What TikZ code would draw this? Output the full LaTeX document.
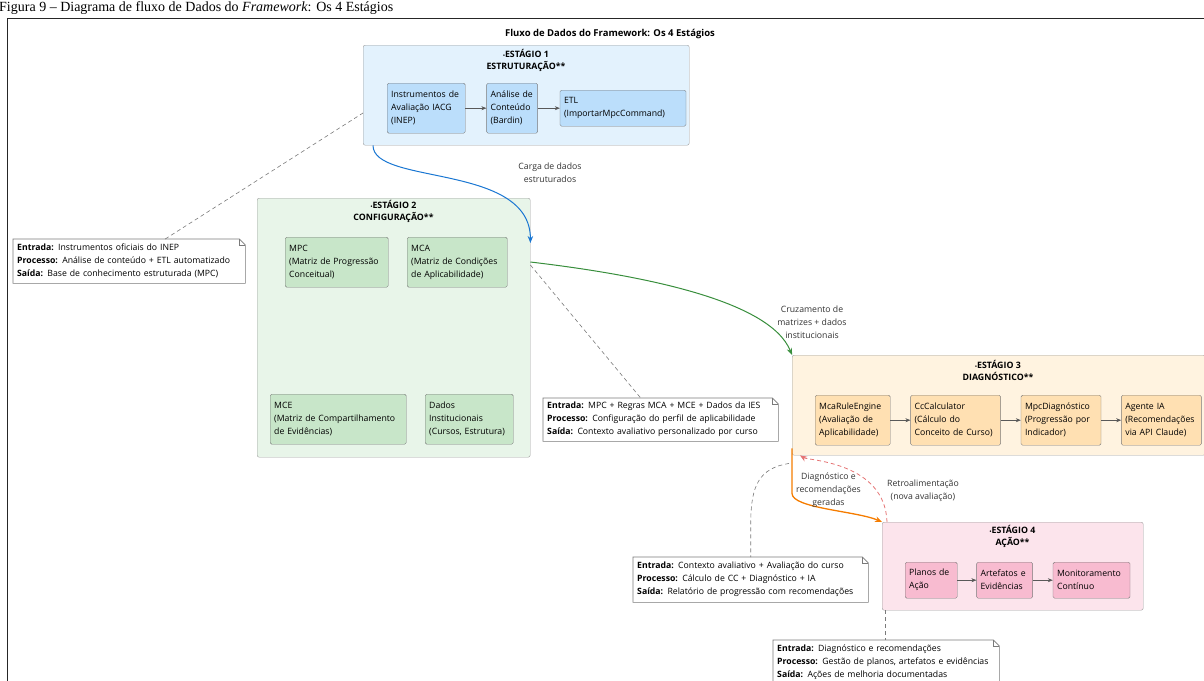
\documentclass[tikz,border=0pt]{standalone}
\usepackage{fontspec}
\setmainfont{Open Sans}
\newfontfamily\capfont{Liberation Serif}
\usetikzlibrary{arrows.meta,positioning}

\definecolor{s1back}{HTML}{E3F2FD}
\definecolor{s1part}{HTML}{BBDEFB}
\definecolor{s2back}{HTML}{E8F5E9}
\definecolor{s2part}{HTML}{C8E6C9}
\definecolor{s3back}{HTML}{FFF3E0}
\definecolor{s3part}{HTML}{FFE0B2}
\definecolor{s4back}{HTML}{FCE4EC}
\definecolor{s4part}{HTML}{F8BBD0}
\definecolor{blueflow}{HTML}{1976D2}
\definecolor{greenflow}{HTML}{388E3C}
\definecolor{orangeflow}{HTML}{F57C00}
\definecolor{redflow}{HTML}{E57373}
\definecolor{stageedge}{HTML}{9E9E9E}
\definecolor{partedge}{HTML}{7A7A7A}

\newcommand{\dotmark}{{\fontsize{5}{5}\selectfont\textbullet}}
\newcommand{\notecorner}[1]{%
  \draw[notedge] (#1.south west) -- (#1.north west) -- ([xshift=-6pt]#1.north east)
    -- ([yshift=-6pt]#1.north east) -- (#1.south east) -- cycle;
  \draw[notedge] ([xshift=-6pt]#1.north east) |- ([yshift=-6pt]#1.north east);}

\begin{document}
\begin{tikzpicture}[x=1pt,y=-1pt,
  every node/.style={font=\fontsize{8.7}{13}\selectfont},
  stage/.style={draw=stageedge, rounded corners=2pt, anchor=north west, inner sep=0pt},
  part/.style={draw=partedge, rounded corners=1.5pt, anchor=north west, align=left, inner xsep=4pt, inner ysep=0pt},
  head/.style={align=center, font=\fontsize{8.8}{12}\selectfont\bfseries},
  note/.style={fill=white, anchor=north west, align=left, inner xsep=4pt, inner ysep=0pt},
  notedge/.style={draw=partedge, line width=0.6pt},
  noteline/.style={partedge, dash pattern=on 4pt off 3pt, line width=0.6pt},
  flow/.style={-{Stealth[length=5pt,width=4pt]}, black!65, line width=0.6pt},
  big/.style={-{Stealth[length=7pt,width=5.5pt]}, line width=1pt},
  lbl/.style={align=center, text=black!80}]

\useasboundingbox (0,0) rectangle (1204,680);
\clip (0,0) rectangle (1204,680);

\draw[black!85, line width=0.8pt] (7,18) rectangle (1230,720);
\node[anchor=base west, inner sep=0pt, font=\capfont\fontsize{14}{14}\selectfont] (cap) at (-1,11)
  {Figura 9 – Diagrama de fluxo de Dados do \textit{Framework}: Os 4 Estágios};
\node[font=\fontsize{9.5}{12}\selectfont\bfseries] (title) at (610,34) {Fluxo de Dados do Framework: Os 4 Estágios};

\node[stage, fill=s1back, minimum width=326pt, minimum height=100pt] (s1) at (363,45) {};
\node[head] (s1h) at (526,60) {\dotmark ESTÁGIO 1\\ESTRUTURAÇÃO**};
\node[part, fill=s1part, text width=70pt, minimum height=50pt] (inst) at (387,83) {Instrumentos de\\Avaliação IACG\\(INEP)};
\node[part, fill=s1part, text width=43pt, minimum height=50pt, right=21pt of inst] (anal) {Análise de\\Conteúdo\\(Bardin)};
\node[part, fill=s1part, text width=118pt, minimum height=36pt, right=22pt of anal] (etl) {ETL\\(ImportarMpcCommand)};
\draw[flow] (inst) -- (anal);
\draw[flow] (anal) -- (etl);

\node[stage, fill=s2back, minimum width=273pt, minimum height=259pt] (s2) at (257,198) {};
\node[head] (s2h) at (393.5,211.5) {\dotmark ESTÁGIO 2\\CONFIGURAÇÃO**};
\node[part, fill=s2part, text width=95pt, minimum height=50pt] (mpc) at (285,237) {MPC\\(Matriz de Progressão\\Conceitual)};
\node[part, fill=s2part, text width=92pt, minimum height=50pt] (mca) at (407,237) {MCA\\(Matriz de Condições\\de Aplicabilidade)};
\node[part, fill=s2part, text width=128pt, minimum height=50pt] (mce) at (270,394) {MCE\\(Matriz de Compartilhamento\\de Evidências)};
\node[part, fill=s2part, text width=80pt, minimum height=50pt] (ies) at (425,394) {Dados\\Institucionais\\(Cursos, Estrutura)};

\node[stage, fill=s3back, minimum width=413pt, minimum height=100pt] (s3) at (792,355) {};
\node[head] (s3h) at (998,370.5) {\dotmark ESTÁGIO 3\\DIAGNÓSTICO**};
\node[part, fill=s3part, text width=67pt, minimum height=50pt] (rule) at (815,395) {McaRuleEngine\\(Avaliação de\\Aplicabilidade)};
\node[part, fill=s3part, text width=82pt, minimum height=50pt, right=20pt of rule] (calc) {CcCalculator\\(Cálculo do\\Conceito de Curso)};
\node[part, fill=s3part, text width=72pt, minimum height=50pt, right=20pt of calc] (diag) {MpcDiagnóstico\\(Progressão por\\Indicador)};
\node[part, fill=s3part, text width=72pt, minimum height=50pt, right=20pt of diag] (agent) {Agente IA\\(Recomendações\\via API Claude)};
\draw[flow] (rule) -- (calc);
\draw[flow] (calc) -- (diag);
\draw[flow] (diag) -- (agent);

\node[stage, fill=s4back, minimum width=261pt, minimum height=88pt] (s4) at (882,522) {};
\node[head] (s4h) at (1012.5,536.5) {\dotmark ESTÁGIO 4\\AÇÃO**};
\node[part, fill=s4part, text width=44pt, minimum height=36pt] (plan) at (905,562) {Planos de\\Ação};
\node[part, fill=s4part, text width=48pt, minimum height=36pt, right=19pt of plan] (art) {Artefatos e\\Evidências};
\node[part, fill=s4part, text width=69pt, minimum height=36pt, right=20pt of art] (mon) {Monitoramento\\Contínuo};
\draw[flow] (plan) -- (art);
\draw[flow] (art) -- (mon);

\node[note, text width=224pt, minimum height=44pt] (n1) at (13,239) {\textbf{Entrada:} Instrumentos oficiais do INEP\\\textbf{Processo:} Análise de conteúdo + ETL automatizado\\\textbf{Saída:} Base de conhecimento estruturada (MPC)};
\notecorner{n1}
\node[note, text width=227pt, minimum height=43pt] (n2) at (543,398) {\textbf{Entrada:} MPC + Regras MCA + MCE + Dados da IES\\\textbf{Processo:} Configuração do perfil de aplicabilidade\\\textbf{Saída:} Contexto avaliativo personalizado por curso};
\notecorner{n2}
\node[note, text width=227pt, minimum height=45pt] (n3) at (633,557) {\textbf{Entrada:} Contexto avaliativo + Avaliação do curso\\\textbf{Processo:} Cálculo de CC + Diagnóstico + IA\\\textbf{Saída:} Relatório de progressão com recomendações};
\notecorner{n3}
\node[note, text width=218pt, minimum height=45pt] (n4) at (773,640) {\textbf{Entrada:} Diagnóstico e recomendações\\\textbf{Processo:} Gestão de planos, artefatos e evidências\\\textbf{Saída:} Ações de melhoria documentadas};
\notecorner{n4}

\draw[noteline] ([xshift=36pt]n1.north) -- ([yshift=-68pt]s1.north west);
\draw[noteline] ([yshift=-67pt]s2.north east) -- ([xshift=-20pt]n2.north);
\draw[noteline] ([xshift=-3pt,yshift=-8pt]s3.south west) .. controls +(-30,5) and +(0,-40) .. ([yshift=32pt]n3.north) -- (n3.north);
\draw[noteline] ([xshift=3pt]s4.south west) -- ([xshift=3pt]s4.south west |- n4.north);

\draw[big, blueflow] ([xshift=10pt]s1.south west) .. controls +(0,40) and +(0,-80) .. ([yshift=-45pt]s2.north east);
\node[lbl] (l1) at (550,173) {Carga de dados\\estruturados};
\draw[big, greenflow] ([yshift=-64pt]s2.north east) .. controls +(110,13) and +(-22,-55) .. (s3.north west);
\node[lbl] (l2) at (812,322) {Cruzamento de\\matrizes + dados\\institucionais};
\draw[big, orangeflow, line width=1.3pt] ([yshift=7pt]s3.south west) -- ++(0,45) .. controls +(0,15) and +(-25,-11) .. (s4.north west);
\node[lbl] (l3) at (828.5,490) {Diagnóstico e\\recomendações\\geradas};
\draw[big, redflow, dash pattern=on 4pt off 3pt, line width=0.8pt] ([xshift=5pt]s4.north west) .. controls +(-2,-60) and +(8,5) .. ([xshift=8pt]s3.south west);
\node[lbl] (l4) at (923,490.5) {Retroalimentação\\(nova avaliação)};
\end{tikzpicture}
\end{document}
